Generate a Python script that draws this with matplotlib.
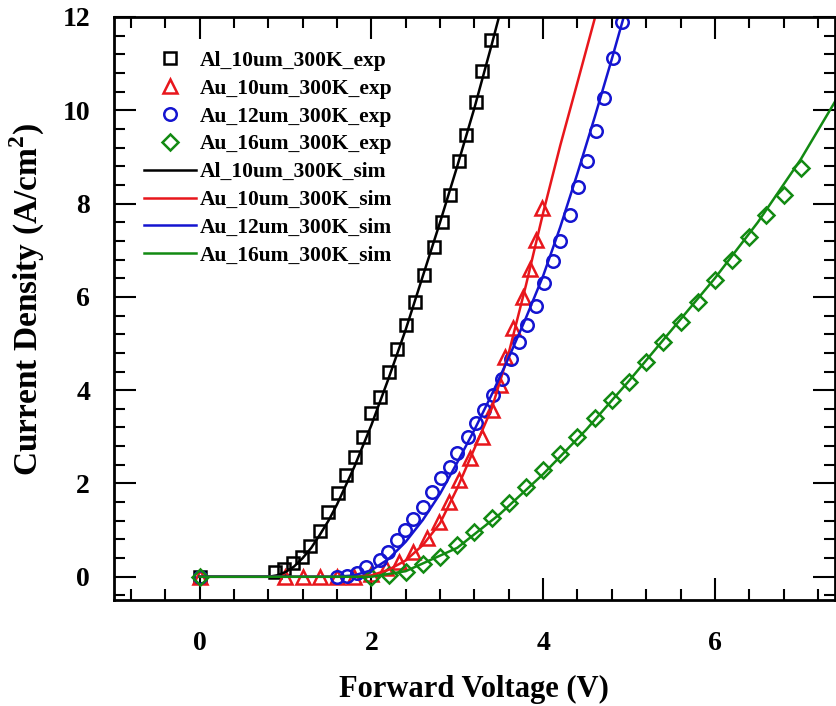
import numpy as np
import matplotlib
matplotlib.use('Agg')
import matplotlib.pyplot as plt

plt.rcParams['font.family'] = 'Liberation Serif'
plt.rcParams['font.weight'] = 'bold'
plt.rcParams['mathtext.fontset'] = 'custom'
plt.rcParams['mathtext.rm'] = 'Liberation Serif:bold'
plt.rcParams['mathtext.bf'] = 'Liberation Serif:bold'

# measured points (V, A/cm2)
al10_v = [0, 0.88, 0.98, 1.09, 1.19, 1.28, 1.4, 1.5, 1.61, 1.7, 1.81, 1.9, 2.0, 2.1, 2.21,
          2.3, 2.4, 2.51, 2.61, 2.73, 2.82, 2.92, 3.02, 3.1, 3.22, 3.29, 3.39]
al10_j = [0, 0.11, 0.17, 0.3, 0.43, 0.66, 0.99, 1.39, 1.8, 2.19, 2.57, 3.0, 3.51, 3.86, 4.39,
          4.89, 5.4, 5.89, 6.47, 7.07, 7.6, 8.19, 8.91, 9.47, 10.18, 10.85, 11.5]

au10_v = [0, 1.0, 1.2, 1.4, 1.6, 1.8, 2.0, 2.17, 2.32, 2.49, 2.65, 2.79, 2.9, 3.02, 3.15,
          3.29, 3.41, 3.5, 3.56, 3.65, 3.76, 3.85, 3.92, 3.99]
au10_j = [0, 0, 0, 0, 0, 0, 0.06, 0.19, 0.32, 0.54, 0.84, 1.18, 1.61, 2.08, 2.55,
          3.0, 3.58, 4.12, 4.71, 5.34, 6.0, 6.6, 7.22, 7.9]

au12_v = [0, 1.6, 1.72, 1.83, 1.94, 2.1, 2.19, 2.3, 2.39, 2.49, 2.6, 2.71, 2.81, 2.92, 3.0,
          3.12, 3.22, 3.31, 3.42, 3.52, 3.63, 3.72, 3.81, 3.92, 4.01, 4.12, 4.2, 4.31,
          4.41, 4.51, 4.61, 4.71, 4.81, 4.92]
au12_j = [0, 0, 0.02, 0.08, 0.2, 0.36, 0.54, 0.79, 1.0, 1.24, 1.5, 1.82, 2.12, 2.36, 2.66,
          3.0, 3.3, 3.58, 3.9, 4.25, 4.67, 5.04, 5.4, 5.81, 6.3, 6.77, 7.2, 7.76,
          8.35, 8.91, 9.56, 10.26, 11.12, 11.9]

au16_v = [0, 2.0, 2.2, 2.4, 2.6, 2.8, 3.0, 3.2, 3.4, 3.6, 3.8, 4.0, 4.2, 4.4, 4.6, 4.8,
          5.0, 5.2, 5.4, 5.6, 5.8, 6.0, 6.2, 6.4, 6.6, 6.8, 7.0]
au16_j = [0, 0, 0.04, 0.1, 0.28, 0.43, 0.68, 0.96, 1.25, 1.59, 1.92, 2.28, 2.64, 3.0, 3.41,
          3.79, 4.18, 4.61, 5.04, 5.46, 5.9, 6.36, 6.79, 7.28, 7.76, 8.19, 8.76]

# simulated curves
al10s_v = [0, 0.8, 0.9, 1.0, 1.1, 1.2, 1.3, 1.4, 1.5, 1.6, 1.8, 2.0, 2.2, 2.4, 2.6, 2.8,
           3.0, 3.2, 3.4, 3.5]
al10s_j = [0, 0, 0.03, 0.1, 0.22, 0.4, 0.62, 0.9, 1.2, 1.55, 2.35, 3.25, 4.25, 5.3, 6.45,
           7.6, 8.8, 10.05, 11.4, 12.1]

au10s_v = [0, 1.8, 2.0, 2.2, 2.4, 2.6, 2.8, 3.0, 3.2, 3.4, 3.6, 3.8, 4.0, 4.2, 4.4, 4.65]
au10s_j = [0, 0, 0.03, 0.15, 0.35, 0.68, 1.15, 1.9, 2.75, 3.6, 4.8, 6.25, 7.8, 9.25, 10.6, 12.3]

au12s_v = [0, 1.6, 1.8, 2.0, 2.2, 2.4, 2.6, 2.8, 3.0, 3.2, 3.4, 3.6, 3.8, 4.0, 4.2, 4.4,
           4.6, 4.8, 5.0]
au12s_j = [0, 0, 0.03, 0.14, 0.38, 0.75, 1.22, 1.78, 2.45, 3.15, 3.9, 4.7, 5.55, 6.45, 7.5,
           8.65, 9.85, 11.1, 12.4]

au16s_v = [0, 2.0, 2.4, 3.0, 3.5, 4.0, 4.5, 5.0, 5.5, 6.0, 6.5, 7.0, 7.5]
au16s_j = [0, 0, 0.12, 0.62, 1.35, 2.2, 3.15, 4.2, 5.3, 6.4, 7.6, 8.95, 10.5]

labels_exp = ['Al_10um_300K_exp', 'Au_10um_300K_exp', 'Au_12um_300K_exp', 'Au_16um_300K_exp']
labels_sim = ['Al_10um_300K_sim', 'Au_10um_300K_sim', 'Au_12um_300K_sim', 'Au_16um_300K_sim']
colors = ['black', '#e8161c', '#1414d0', '#128a12']
markers = ['s', '^', 'o', 'D']
msizes = [8, 10, 9, 8]

exp_data = [(al10_v, al10_j), (au10_v, au10_j), (au12_v, au12_j), (au16_v, au16_j)]
sim_data = [(al10s_v, al10s_j), (au10s_v, au10s_j), (au12s_v, au12s_j), (au16s_v, au16s_j)]

fig = plt.figure(figsize=(8.36, 7.06), dpi=100)
ax = fig.add_axes([0.136, 0.150, 0.863, 0.826])

h_exp = []
for (v, j), c, m, ms, lab in zip(exp_data, colors, markers, msizes, labels_exp):
    h, = ax.plot(v, j, ls='none', marker=m, ms=ms, mfc='none', mec=c, mew=1.8, label=lab)
    h_exp.append(h)
h_sim = []
for (v, j), c, lab in zip(sim_data, colors, labels_sim):
    h, = ax.plot(v, j, color=c, lw=1.8, label=lab)
    h_sim.append(h)

ax.set_xlim(-1, 7.4)
ax.set_ylim(-0.5, 12)
ax.set_xticks([0, 2, 4, 6])
ax.set_yticks([0, 2, 4, 6, 8, 10, 12])
ax.set_xticks(np.arange(-0.8, 7.41, 0.4), minor=True)
ax.set_yticks(np.arange(-0.4, 12.01, 0.4), minor=True)
ax.tick_params(which='both', direction='in', top=True, right=True, width=1.5,
               labelsize=20)
ax.tick_params(axis='x', pad=22)
ax.tick_params(axis='y', pad=17)
ax.tick_params(which='major', length=16)
ax.tick_params(which='minor', length=8)
for s in ax.spines.values():
    s.set_linewidth(2)

ax.set_xlabel('Forward Voltage (V)', fontsize=22, fontweight='bold', labelpad=14)
ax.set_ylabel(r'Current Density (A/cm$^{\mathbf{2}}$)', fontsize=24, fontweight='bold')
ax.yaxis.set_label_coords(-0.093, 0.515)

ax.legend(h_exp + h_sim, labels_exp + labels_sim, loc='upper left', frameon=False,
          fontsize=15.5, numpoints=1, handlelength=2.4, labelspacing=0.36,
          handletextpad=0.2, bbox_to_anchor=(0.015, 0.975))

fig.savefig('out.png', dpi=100)
